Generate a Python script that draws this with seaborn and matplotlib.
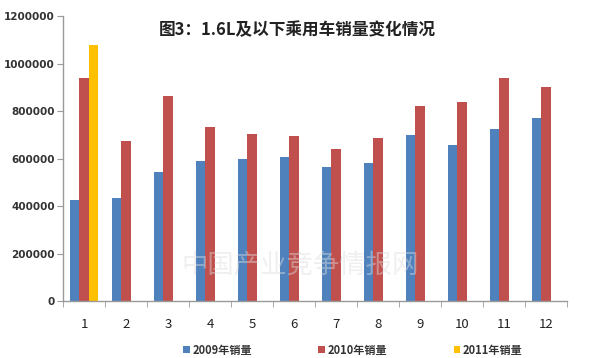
import pandas as pd
import matplotlib.pyplot as plt
import seaborn as sns
import numpy as np

# Data
months = [str(m) for m in range(1, 13)]
sales_2009 = [425000, 435000, 545000, 590000, 598000, 605000, 565000, 582000, 699000, 657000, 724000, 770000]
sales_2010 = [940000, 675000, 865000, 735000, 705000, 695000, 640000, 686000, 820000, 840000, 938000, 902000]
sales_2011 = [1080000] + [np.nan] * 11
series_names = ['2009年销量', '2010年销量', '2011年销量']
colors = ['#4F81BD', '#C0504D', '#FFC000']

# Long-form table for seaborn
df = pd.DataFrame({
    'month': months * 3,
    'sales': sales_2009 + sales_2010 + sales_2011,
    'year': [series_names[0]] * 12 + [series_names[1]] * 12 + [series_names[2]] * 12,
})

sns.set_style('white')
plt.rcParams['font.family'] = ['Noto Sans CJK SC', 'DejaVu Sans']

fig = plt.figure(figsize=(6, 3.58), dpi=100)
ax = fig.add_axes([0.105, 0.159, 0.84, 0.796])

sns.barplot(data=df, x='month', y='sales', hue='year', palette=colors,
            width=0.68, saturation=1, linewidth=0, ax=ax, legend=True)

ax.set_ylim(0, 1200000)
ax.set_xlim(-0.5, 11.5)
ax.set_yticks(range(0, 1200001, 200000))
ax.set_yticklabels([str(v) for v in range(0, 1200001, 200000)],
                   fontsize=7.5, fontweight='bold', family=['DejaVu Sans'], color='#333333')
ax.set_xlabel('')
ax.set_ylabel('')

# Tick marks between categories on the x axis
ax.set_xticks(np.arange(-0.5, 12, 1), minor=True)
ax.tick_params(axis='x', which='major', length=0, labelsize=9.5, pad=12, colors='#222222')
ax.tick_params(axis='x', which='minor', length=4, direction='out', color='#999999')
ax.tick_params(axis='y', which='major', length=4, direction='out', color='#999999', pad=2)
ax.xaxis.set_ticks_position('bottom')
ax.yaxis.set_ticks_position('left')

for side in ['top', 'right']:
    ax.spines[side].set_visible(False)
for side in ['left', 'bottom']:
    ax.spines[side].set_color('#999999')
    ax.spines[side].set_linewidth(1)

# Title inside the plot area
fig.text(0.495, 0.915, '图3：1.6L及以下乘用车销量变化情况', ha='center', va='center',
         fontsize=12, fontweight='bold', color='#222222')

# Faint watermark over the bars
fig.text(0.5, 0.26, '中国产业竞争情报网', ha='center', va='center', fontsize=19,
         color='#dddddd', alpha=0.45, zorder=5)

# Legend at the bottom
leg = ax.legend(loc='upper center', bbox_to_anchor=(0.575, -0.115), ncol=3,
                frameon=False, fontsize=8, handlelength=0.6, handleheight=0.6,
                handletextpad=0.2, columnspacing=6.0)
for t in leg.get_texts():
    t.set_fontweight('bold')
    t.set_color('#333333')

plt.savefig('out.png', dpi=100)
